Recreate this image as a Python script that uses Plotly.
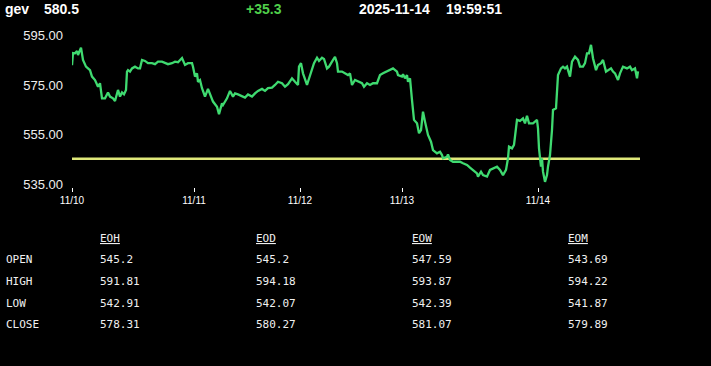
import plotly.graph_objects as go

# ---------------- data ----------------
symbol = "gev"
last_price = "580.5"
change = "+35.3"
date_str = "2025-11-14"
time_str = "19:59:51"

bar_index = [0, 1, 3, 5, 6, 9, 11, 14, 16, 18, 20, 23, 26, 28, 30, 33, 36, 38, 41, 43,
             46, 48, 50, 52, 54, 55, 56, 58, 60, 63, 66, 68, 70, 73, 76, 80, 83, 86, 90, 93,
             96, 100, 103, 106, 110, 113, 116, 120, 121, 123, 125, 126, 128, 130, 133, 136, 138, 141, 145, 147,
             150, 151, 155, 158, 161, 163, 166, 170, 173, 176, 180, 183, 186, 190, 193, 196, 200, 203, 206, 210,
             213, 216, 220, 223, 226, 227, 229, 231, 235, 236, 240, 242, 245, 247, 250, 252, 255, 257, 260, 263,
             265, 266, 270, 273, 276, 278, 280, 283, 286, 290, 292, 295, 298, 301, 305, 308, 311, 315, 318, 321,
             325, 326, 330, 331, 333, 335, 336, 338, 340, 342, 345, 347, 349, 351, 353, 355, 356, 359, 361, 365,
             368, 370, 371, 375, 376, 378, 381, 385, 388, 391, 395, 398, 401, 405, 406, 409, 411, 415, 418, 421,
             425, 428, 431, 434, 436, 437, 440, 442, 444, 445, 448, 451, 453, 455, 457, 461, 465, 466, 467, 469,
             470, 471, 473, 475, 476, 478, 480, 481, 484, 485, 486, 489, 491, 493, 495, 496, 498, 500, 503, 506,
             508, 511, 513, 515, 517, 519, 521, 524, 526, 529, 531, 534, 536, 539, 541, 543, 546, 548, 551, 555,
             558, 560, 563, 565, 566]

price = [583.0, 587.9, 587.8, 588.7, 587.1, 590.1, 585.1, 582.4, 581.7, 581.0, 578.4, 577.0, 574.3, 575.7, 569.6, 569.6, 572.0, 570.3, 569.6, 568.5,
         573.0, 570.3, 572.0, 571.2, 573.0, 580.4, 581.0, 580.4, 581.7, 582.4, 581.7, 581.7, 585.1, 584.7, 583.8, 583.8, 583.4, 584.4, 584.4, 583.8,
         583.4, 583.8, 584.4, 584.2, 585.9, 583.1, 583.8, 583.8, 582.4, 578.4, 579.7, 576.3, 577.0, 573.7, 570.3, 573.4, 571.6, 568.3, 566.2, 563.2,
         567.6, 566.9, 569.6, 572.6, 570.3, 571.6, 571.2, 570.3, 569.9, 571.2, 570.3, 571.6, 572.6, 573.4, 572.6, 573.7, 573.9, 575.0, 576.3, 575.7,
         574.3, 575.3, 577.7, 576.3, 575.0, 582.4, 583.8, 579.7, 575.0, 576.3, 581.0, 583.8, 586.0, 584.7, 586.0, 585.5, 581.7, 582.4, 584.4, 586.4,
         583.8, 580.4, 580.4, 579.7, 579.0, 579.7, 575.0, 577.0, 576.3, 575.7, 574.3, 575.7, 575.0, 575.7, 575.7, 579.0, 579.7, 580.4, 581.0, 581.7,
         580.4, 579.0, 578.4, 579.3, 577.7, 579.0, 576.3, 577.7, 568.9, 560.9, 559.5, 555.5, 556.8, 564.2, 560.2, 555.5, 554.8, 552.1, 548.7, 547.4,
         548.0, 546.7, 545.4, 546.0, 547.0, 544.7, 544.0, 544.0, 544.0, 543.4, 542.7, 541.6, 540.7, 539.3, 538.0, 540.0, 538.6, 538.0, 540.7, 541.3,
         542.0, 540.7, 538.6, 540.7, 545.4, 550.1, 549.4, 550.8, 558.8, 560.9, 560.5, 561.5, 559.5, 562.6, 559.5, 559.5, 560.9, 557.5, 549.4, 542.0,
         545.4, 540.0, 535.9, 538.6, 542.0, 546.7, 556.8, 564.9, 565.6, 575.0, 579.0, 581.7, 582.4, 581.7, 582.4, 581.0, 578.4, 584.4, 586.4, 585.1,
         582.4, 582.4, 583.8, 587.8, 587.8, 591.2, 585.8, 581.0, 583.1, 583.8, 585.1, 580.4, 581.0, 581.7, 580.4, 579.7, 577.0, 579.7, 582.4, 581.7,
         582.4, 581.0, 581.7, 577.7, 580.5]

open_level = 545.2
x_end = 568

date_tick_index = [0, 122, 228, 330, 466]
date_tick_text = ["11/10", "11/11", "11/12", "11/13", "11/14"]

y_tick_vals = [535, 555, 575, 595]

table_columns = ["EOH", "EOD", "EOW", "EOM"]
table_rows = ["OPEN", "HIGH", "LOW", "CLOSE"]
eoh = ["545.2", "591.81", "542.91", "578.31"]
eod = ["545.2", "594.18", "542.07", "580.27"]
eow = ["547.59", "593.87", "542.39", "581.07"]
eom = ["543.69", "594.22", "541.87", "579.89"]
table_values = [eoh, eod, eow, eom]

# ---------------- layout geometry ----------------
W, H = 711, 366
ML, MR, MT, MB = 72, 71, 30, 179
PW = W - ML - MR
PH = H - MT - MB


def px(x):
    return (x - ML) / PW


def py(y):
    return (H - MB - y) / PH


fig = go.Figure()

fig.add_trace(go.Scatter(
    x=[0, x_end], y=[open_level, open_level], mode="lines",
    line=dict(color="#dfe87a", width=2.5), hoverinfo="skip", showlegend=False))

fig.add_trace(go.Scatter(
    x=bar_index, y=price, mode="lines",
    line=dict(color="#3fda70", width=2.3), showlegend=False))

ann = []
hdr_font = dict(family="Arial, Liberation Sans, sans-serif", size=14, color="#ffffff")
for txt, x, col in [(symbol, 3, "#ffffff"), (last_price, 42, "#ffffff"), (change, 244, "#4fcf4a"),
                    (date_str, 357, "#ffffff"), (time_str, 444, "#ffffff")]:
    ann.append(dict(text="<b>%s</b>" % txt, x=px(x), y=py(9), xref="paper", yref="paper",
                    xanchor="left", yanchor="middle", showarrow=False,
                    font=dict(hdr_font, color=col)))

mono = dict(family="DejaVu Sans Mono, monospace", size=11, color="#f0f0f0")
col_x = [98, 254, 410, 566]
row_y = [259, 281, 303, 324]
for cx, name in zip(col_x, table_columns):
    ann.append(dict(text="<u>%s</u>" % name, x=px(cx), y=py(238), xref="paper", yref="paper",
                    xanchor="left", yanchor="middle", showarrow=False, font=mono))
for ry, name in zip(row_y, table_rows):
    ann.append(dict(text=name, x=px(4), y=py(ry), xref="paper", yref="paper",
                    xanchor="left", yanchor="middle", showarrow=False, font=mono))
for cx, vals in zip(col_x, table_values):
    for ry, v in zip(row_y, vals):
        ann.append(dict(text=v, x=px(cx), y=py(ry), xref="paper", yref="paper",
                        xanchor="left", yanchor="middle", showarrow=False, font=mono))

fig.update_layout(
    width=W, height=H,
    margin=dict(l=ML, r=MR, t=MT, b=MB),
    paper_bgcolor="#000000", plot_bgcolor="#000000",
    annotations=ann,
    xaxis=dict(range=[0, x_end], tickvals=date_tick_index, ticktext=date_tick_text,
               showgrid=False, zeroline=False, showline=False,
               ticks="outside", ticklen=4, tickwidth=1, tickcolor="#ffffff",
               tickfont=dict(family="Arial, Liberation Sans, sans-serif", size=10, color="#ffffff")),
    yaxis=dict(range=[533.8, 597.2], tickvals=y_tick_vals, tickformat=".2f",
               showgrid=False, zeroline=False, showline=False, ticks="",
               ticklabelstandoff=8,
               tickfont=dict(family="Arial, Liberation Sans, sans-serif", size=13, color="#eeeeee")),
)

fig.write_html("out.html")
